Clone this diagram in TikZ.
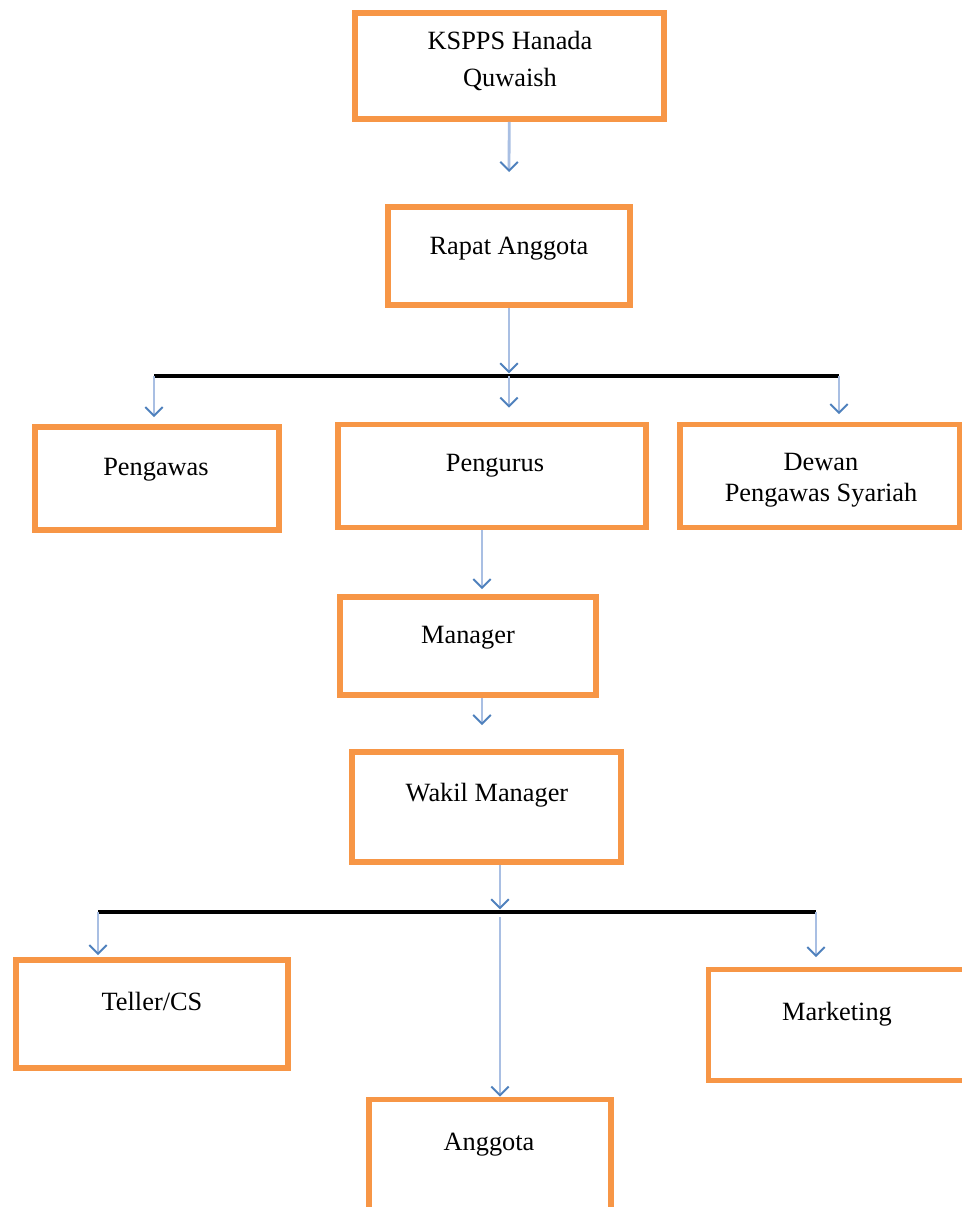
\documentclass[tikz,border=0pt]{standalone}
\usepackage{fontspec}
\setmainfont{Liberation Serif}
\usetikzlibrary{arrows.meta}
\definecolor{boxorange}{HTML}{F79646}
\definecolor{arrowline}{HTML}{A9BFE3}
\definecolor{arrowhead}{HTML}{4F81BD}
\begin{document}
\begin{tikzpicture}[x=0.02cm, y=-0.02cm,
    box/.style={draw=boxorange, line width=3.2pt, inner sep=0pt},
    lbl/.style={align=center, inner sep=0pt, font=\fontsize{15}{17.5}\selectfont},
    arr/.style={->, >={Straight Barb[length=5pt,width=10pt,line width=1.1pt,color=arrowhead]}, draw=arrowline, line width=1.6pt},
    bar/.style={line width=2.1pt, black}]
  \clip (0,0) rectangle (962,1207);
  \fill[white] (0,0) rectangle (962,1207);
  % boxes
  \node[box, minimum width=6.18cm, minimum height=2.12cm] (ksp) at (509.5,66) {};
  \node[box, minimum width=4.84cm, minimum height=1.96cm] (rapat) at (509,256) {};
  \node[box, minimum width=4.88cm, minimum height=2.06cm] (pengawas) at (157,478.5) {};
  \node[box, minimum width=6.16cm, minimum height=2.06cm] (pengurus) at (492,476) {};
  \node[box, minimum width=5.60cm, minimum height=2.06cm] (dewan) at (820,476) {};
  \node[box, minimum width=5.12cm, minimum height=1.96cm] (manager) at (468,646) {};
  \node[box, minimum width=5.38cm, minimum height=2.20cm] (wakil) at (486.5,807) {};
  \node[box, minimum width=5.44cm, minimum height=2.16cm] (teller) at (152,1014) {};
  \node[box, minimum width=5.14cm, minimum height=2.22cm] (marketing) at (837,1025) {};
  \node[box, minimum width=4.84cm, minimum height=2.30cm] (anggota) at (490,1157) {};
  % texts
  \node[lbl] (kspT) at (510,61) {KSPPS Hanada\\[4pt]Quwaish};
  \node[lbl] (rapatT) at (509,249) {Rapat Anggota};
  \node[lbl] (pengawasT) at (156,470) {Pengawas};
  \node[lbl] (pengurusT) at (495,466) {Pengurus};
  \node[lbl] (dewanT) at (821,480) {Dewan\\Pengawas Syariah};
  \node[lbl] (managerT) at (468,638) {Manager};
  \node[lbl] (wakilT) at (487,795) {Wakil Manager};
  \node[lbl] (tellerT) at (152,1001) {Teller/CS};
  \node[lbl] (marketingT) at (837,1014) {Marketing};
  \node[lbl] (anggotaT) at (489,1145) {Anggota};
  % junctions
  \coordinate (t1) at (509,172);
  \coordinate (t2) at (482,725);
  \coordinate (j1) at (509,376);
  \coordinate (j1l) at (154,376);
  \coordinate (j1r) at (839,376);
  \coordinate (j2) at (500,912);
  \coordinate (j2l) at (98,912);
  \coordinate (j2r) at (816,912);
  \draw[bar] (j1l) -- (j1r);
  \draw[bar] (j2l) -- (j2r);
  % arrows
  \draw[arr] (ksp) -- (t1);
  \draw[arr, shorten >=1.5pt] (rapat) -- (j1);
  \draw[arr, shorten >=0.28cm] (j1) -- (j1 |- pengurus.north);
  \draw[arr, shorten >=0.14cm] (j1l) -- (j1l |- pengawas.north);
  \draw[arr, shorten >=0.15cm] (j1r) -- (j1r |- dewan.north);
  \draw[arr, shorten >=0.1cm] ([xshift=-0.2cm]pengurus.south) -- ([xshift=-0.2cm]pengurus.south |- manager.north);
  \draw[arr] (manager.south -| t2) -- (t2);
  \draw[arr, shorten >=1.5pt] (wakil.south -| j2) -- (j2);
  \draw[arr, shorten <=0.1cm] (j2) -- (j2 |- anggota.north);
  \draw[arr, shorten >=0.04cm] (j2l) -- (j2l |- teller.north);
  \draw[arr, shorten >=0.19cm] (j2r) -- (j2r |- marketing.north);
\end{tikzpicture}
\end{document}
